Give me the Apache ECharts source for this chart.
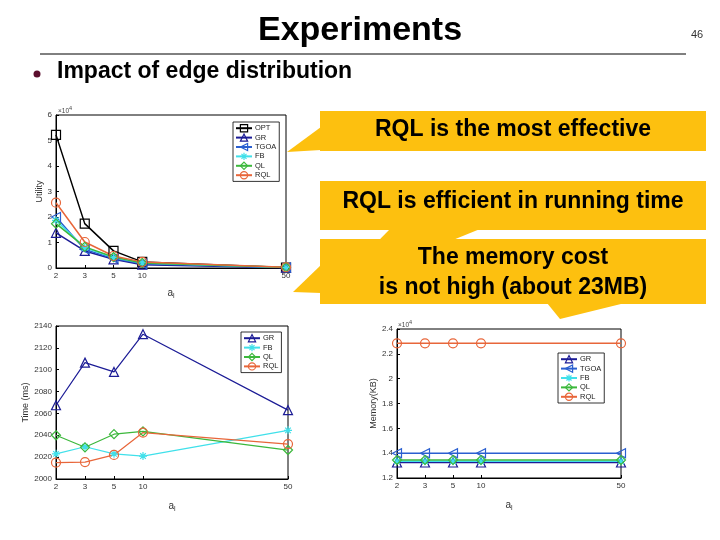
<!DOCTYPE html>
<html><head><meta charset="utf-8">
<script src="https://cdn.jsdelivr.net/npm/echarts@6/dist/echarts.min.js"></script>
<style>html,body{margin:0;padding:0;background:#fff}#c{width:720px;height:540px}</style>
</head><body><div id="c"></div>
<script>
// ---- data ----
const xTickLabels = ['2', '3', '5', '10', '50'];
const xPositions = [1, 2, 3, 4, 9];
// Utility (x10^4)
const utilOPT  = [5.22, 1.74, 0.67, 0.24, 0.02];
const utilGR   = [1.38, 0.67, 0.34, 0.13, 0.01];
const utilTGOA = [2.00, 0.73, 0.37, 0.17, 0.02];
const utilFB   = [1.87, 0.79, 0.41, 0.20, 0.02];
const utilQL   = [1.74, 0.83, 0.43, 0.20, 0.03];
const utilRQL  = [2.56, 1.02, 0.47, 0.24, 0.03];
// Time (ms)
const timeGR  = [2067.5, 2106.5, 2098, 2132.5, 2063];
const timeFB  = [2023, 2029.5, 2023, 2021, 2044.5];
const timeQL  = [2040, 2029, 2041, 2043.5, 2026.5];
const timeRQL = [2015, 2015.5, 2022, 2042.5, 2032];
// Memory (KB, x10^4)
const memGR   = [1.325, 1.325, 1.325, 1.325, 1.325];
const memTGOA = [1.40, 1.40, 1.40, 1.40, 1.40];
const memFB   = [1.335, 1.335, 1.335, 1.335, 1.335];
const memQL   = [1.345, 1.345, 1.345, 1.345, 1.345];
const memRQL  = [2.285, 2.285, 2.285, 2.285, 2.285];

// ---- styles ----
const C = {OPT:'#000000', GR:'#1c1c96', TGOA:'#2a5fd0', FB:'#40e0ea', QL:'#3cb83c', RQL:'#e8663a'};
const SYM = {
  OPT: {symbol:'rect', rot:0},
  GR: {symbol:'triangle', rot:0},
  TGOA: {symbol:'triangle', rot:90},
  FB: {symbol:'path://M5,0L5,10M0,5L10,5M1.5,1.5L8.5,8.5M1.5,8.5L8.5,1.5', rot:0},
  QL: {symbol:'diamond', rot:0},
  RQL: {symbol:'circle', rot:0}
};
const FONT = 'Liberation Sans, Arial, sans-serif';
const HOLLOW = 'rgba(0,0,0,0)';

function mk(name, vals, gi, lw) {
  return {
    type:'line', name:name, xAxisIndex:gi, yAxisIndex:gi,
    data: vals.map((v,i)=>[xPositions[i], v]),
    symbol: SYM[name].symbol, symbolRotate: SYM[name].rot, symbolSize: name==='FB'?8:9,
    lineStyle:{color:C[name], width:lw},
    itemStyle:{color:HOLLOW, borderColor:C[name], borderWidth:1.2},
    emphasis:{disabled:true}, animation:false, z: 3
  };
}
function xAx(gi, gap) {
  return {
    type:'value', gridIndex:gi, min:1, max:9,
    name:'{a|a}{s|l}', nameLocation:'middle', nameGap:gap,
    nameTextStyle:{rich:{a:{fontSize:10,color:'#333',fontFamily:FONT}, s:{fontSize:7,color:'#333',fontFamily:FONT,padding:[6,0,0,0]}}},
    axisLine:{lineStyle:{color:'#000',width:1}},
    axisTick:{inside:true, length:3, customValues:xPositions, lineStyle:{color:'#000'}},
    axisLabel:{customValues:xPositions, formatter:v=>xTickLabels[xPositions.indexOf(v)], fontSize:8, color:'#333', fontFamily:FONT, margin:4},
    splitLine:{show:false}
  };
}
function yAx(gi, min, max, interval, name, gap, fmt) {
  return {
    type:'value', gridIndex:gi, min:min, max:max, interval:interval,
    name:name, nameLocation:'middle', nameGap:gap,
    nameTextStyle:{fontSize:9, color:'#333', fontFamily:FONT},
    axisLine:{show:true, lineStyle:{color:'#000',width:1}},
    axisTick:{show:true, inside:true, length:3, lineStyle:{color:'#000'}},
    axisLabel:{fontSize:8, color:'#333', fontFamily:FONT, margin:4, formatter:fmt},
    splitLine:{show:false}
  };
}
function lg(names, left, top) {
  return {
    data:names.map(n=>({name:n, itemStyle:{color:HOLLOW, borderColor:C[n], borderWidth:1.2}})),
    orient:'vertical', left:left, top:top, itemGap:1, itemWidth:16, itemHeight:9,
    padding:[2,3,2,2], borderColor:'#000', borderWidth:0.8, backgroundColor:'#fff',
    textStyle:{fontSize:7.5, color:'#222', fontFamily:FONT, padding:[0,0,0,-2]}, selectedMode:false
  };
}

const Y = '#FDC00F';
const graphic = [
  {type:'text', x:360, y:31, style:{text:'Experiments', font:'bold 34px '+FONT, fill:'#000', align:'center', verticalAlign:'middle'}},
  {type:'line', shape:{x1:40, y1:54, x2:686, y2:54}, style:{stroke:'#000', lineWidth:1}},
  {type:'text', x:697, y:35, style:{text:'46', font:'11px '+FONT, fill:'#333', align:'center', verticalAlign:'middle'}},
  {type:'circle', shape:{cx:37, cy:74, r:3.5}, style:{fill:'#5c0f2e'}},
  {type:'text', x:57, y:72, style:{text:'Impact of edge distribution', font:'bold 23px '+FONT, fill:'#000', align:'left', verticalAlign:'middle'}},
  {type:'text', x:58, y:111, style:{text:'{a|×10}{b|4}', rich:{a:{fontSize:6.5,fill:'#444',fontFamily:FONT}, b:{fontSize:5.5,fill:'#444',fontFamily:FONT,padding:[0,0,5,0]}}, verticalAlign:'middle'}},
  {type:'text', x:398, y:325, style:{text:'{a|×10}{b|4}', rich:{a:{fontSize:6.5,fill:'#444',fontFamily:FONT}, b:{fontSize:5.5,fill:'#444',fontFamily:FONT,padding:[0,0,5,0]}}, verticalAlign:'middle'}},
  // callout 1
  {type:'polygon', z:100, shape:{points:[[321,127],[287,152],[321,150]]}, style:{fill:Y}},
  {type:'rect', z:100, shape:{x:320, y:111, width:386, height:40}, style:{fill:Y}},
  {type:'text', z:101, x:513, y:130, style:{text:'RQL is the most effective', font:'bold 23px '+FONT, fill:'#000', align:'center', verticalAlign:'middle'}},
  // callout 2
  {type:'polygon', z:100, shape:{points:[[390,229],[480,229],[330,290]]}, style:{fill:Y}},
  {type:'rect', z:100, shape:{x:320, y:181, width:386, height:49}, style:{fill:Y}},
  {type:'text', z:101, x:513, y:202, style:{text:'RQL is efficient in running time', font:'bold 23px '+FONT, fill:'#000', align:'center', verticalAlign:'middle'}},
  // callout 3
  {type:'polygon', z:102, shape:{points:[[321,265],[293,292],[321,293]]}, style:{fill:Y}},
  {type:'polygon', z:102, shape:{points:[[547,303],[560,319],[625,303]]}, style:{fill:Y}},
  {type:'rect', z:102, shape:{x:320, y:239, width:386, height:65}, style:{fill:Y}},
  {type:'text', z:103, x:513, y:258, style:{text:'The memory cost', font:'bold 23px '+FONT, fill:'#000', align:'center', verticalAlign:'middle'}},
  {type:'text', z:103, x:513, y:288, style:{text:'is not high (about 23MB)', font:'bold 23px '+FONT, fill:'#000', align:'center', verticalAlign:'middle'}}
];

const option = {
  backgroundColor:'#fff',
  animation:false,
  textStyle:{fontFamily:FONT},
  grid:[
    {left:56, top:115, width:230, height:153, show:true, borderColor:'#000', borderWidth:1, backgroundColor:'#fff', containLabel:false},
    {left:56, top:326, width:232, height:153, show:true, borderColor:'#000', borderWidth:1, backgroundColor:'#fff', containLabel:false},
    {left:397, top:329, width:224, height:149, show:true, borderColor:'#000', borderWidth:1, backgroundColor:'#fff', containLabel:false}
  ],
  xAxis:[xAx(0,19), xAx(1,21), xAx(2,21)],
  yAxis:[
    yAx(0, 0, 6, 1, 'Utility', 11, v=>String(v)),
    yAx(1, 2000, 2140, 20, 'Time (ms)', 24, v=>String(v)),
    yAx(2, 1.2, 2.4, 0.2, 'Memory(KB)', 18, v=>String(+v.toFixed(1)))
  ],
  legend:[
    lg(['OPT','GR','TGOA','FB','QL','RQL'], 233, 122),
    lg(['GR','FB','QL','RQL'], 241, 332),
    lg(['GR','TGOA','FB','QL','RQL'], 558, 353)
  ],
  series:[
    mk('OPT', utilOPT, 0, 1.5), mk('GR', utilGR, 0, 1.5), mk('TGOA', utilTGOA, 0, 1.5),
    mk('FB', utilFB, 0, 1.5), mk('QL', utilQL, 0, 1.5), mk('RQL', utilRQL, 0, 1.5),
    mk('GR', timeGR, 1, 1.2), mk('FB', timeFB, 1, 1.2), mk('QL', timeQL, 1, 1.2), mk('RQL', timeRQL, 1, 1.2),
    mk('GR', memGR, 2, 1.5), mk('TGOA', memTGOA, 2, 1.5), mk('FB', memFB, 2, 1.5), mk('QL', memQL, 2, 1.5), mk('RQL', memRQL, 2, 1.5)
  ],
  graphic: graphic
};
const chart = echarts.init(document.getElementById('c'), null, {renderer:'canvas'});
chart.setOption(option);
</script>
</body></html>
